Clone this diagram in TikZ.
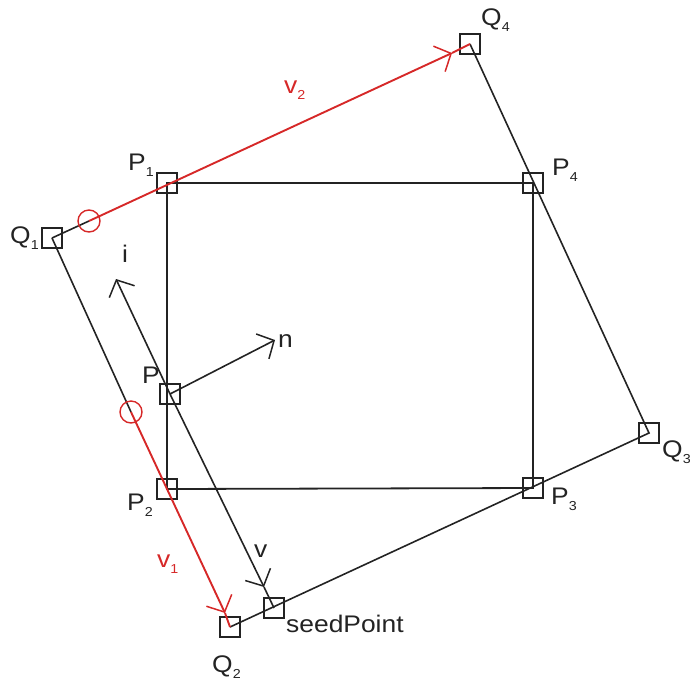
\documentclass[tikz,border=0pt]{standalone}
\usepackage{fontspec}
\setmainfont{Liberation Sans}
\usetikzlibrary{arrows.meta}
\definecolor{redv}{RGB}{214,40,40}
\definecolor{ink}{RGB}{35,35,35}
\newcommand{\lbsub}[2]{#1\raisebox{-0.55ex}{\fontsize{13}{13}\selectfont #2}}
\begin{document}
\begin{tikzpicture}[x=1pt,y=-1pt,
  sq/.style={draw=ink, line width=1.3pt, minimum size=20pt, inner sep=0pt, outer sep=0pt},
  ln/.style={draw=ink, line width=1.6pt},
  rect/.style={draw=ink, line width=1.8pt},
  rd/.style={draw=redv, line width=1.9pt},
  barb/.style={-{Straight Barb[length=13pt,width=28pt,line width=1.5pt]}},
  lab/.style={anchor=base west, inner sep=0pt, xscale=1.1, font=\fontsize{24}{24}\selectfont, text=ink},
  rlab/.style={lab, text=redv},
  mk/.style={draw=redv, line width=1.4pt, circle, minimum size=22pt, inner sep=0pt}]
\useasboundingbox (0,0) rectangle (690,681);
% square markers
\node[sq] (Q1) at (52,238) {};
\node[sq] (Q2) at (230,627) {};
\node[sq] (Q3) at (649,433) {};
\node[sq] (Q4) at (470,44) {};
\node[sq] (P1) at (167,183) {};
\node[sq] (P2) at (167,489) {};
\node[sq] (P3) at (533,488) {};
\node[sq] (P4) at (533,183) {};
\node[sq] (P) at (170,394) {};
\node[sq] (S) at (274,608) {};
% helper points
\coordinate (c1) at (89,221);
\coordinate (c2) at (131,412);
\coordinate (a2) at (452,53);
\coordinate (a1) at (225,613);
\coordinate (it) at (116,279);
\coordinate (vt) at (264,587);
\coordinate (nt) at (275,340);
% rectangle P1..P4
\draw[rect] (P1.center) -- (P4.center) -- (P3.center) -- (P2.center) -- cycle;
% outer quadrilateral (black parts)
\draw[ln] (Q1.center) -- (c1);
\draw[ln] (Q1.center) -- (c2);
\draw[ln] (Q4.center) -- (Q3.center) -- (Q2.center);
% red vectors
\draw[rd, barb] (c1) -- (a2);
\draw[rd] (a2) -- (Q4.center);
\draw[rd, barb] (c2) -- (a1);
\draw[rd] (a1) -- (Q2.center);
\node[mk] (m1) at (c1) {};
\node[mk] (m2) at (c2) {};
% i, v, n arrows
\draw[ln, barb] (P.center) -- (it);
\draw[ln, barb] (P.center) -- (vt);
\draw[ln] (vt) -- (S.center);
\draw[ln, barb] (P.center) -- (nt);
% labels
\node[lab] (lQ1) at (10,243) {\lbsub{Q}{1}};
\node[lab] (lQ2) at (212,672) {\lbsub{Q}{2}};
\node[lab] (lQ3) at (662,457) {\lbsub{Q}{3}};
\node[lab] (lQ4) at (481,25) {\lbsub{Q}{4}};
\node[lab] (lP1) at (128,170) {\lbsub{P}{1}};
\node[lab] (lP2) at (127,510) {\lbsub{P}{2}};
\node[lab] (lP3) at (551,504) {\lbsub{P}{3}};
\node[lab] (lP4) at (552,175) {\lbsub{P}{4}};
\node[lab] (lP) at (142,383) {P};
\node[lab] (li) at (122,262) {i};
\node[lab] (ln) at (278,347) {n};
\node[lab] (lv) at (254,557) {v};
\node[lab] (ls) at (286,632) {seedPoint};
\node[rlab] (lv1) at (157,567) {\lbsub{v}{1}};
\node[rlab] (lv2) at (284,93) {\lbsub{v}{2}};
\end{tikzpicture}
\end{document}
